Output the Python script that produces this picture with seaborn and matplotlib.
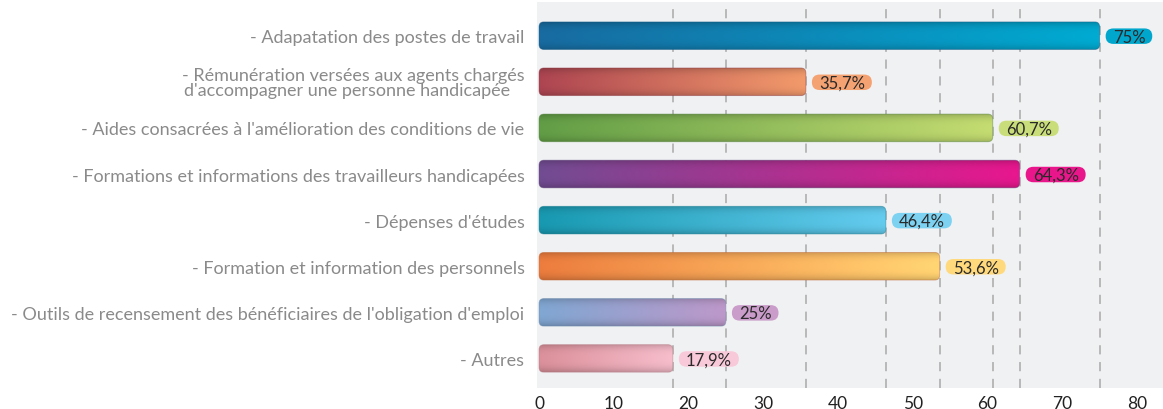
import numpy as np
import pandas as pd
import matplotlib
matplotlib.use("Agg")
import matplotlib.pyplot as plt
import seaborn as sns
from matplotlib.patches import FancyBboxPatch
from matplotlib.colors import to_rgb

categories = [
    "- Adapatation des postes de travail",
    "- Rémunération versées aux agents chargés\nd'accompagner une personne handicapée   ",
    "- Aides consacrées à l'amélioration des conditions de vie",
    "- Formations et informations des travailleurs handicapées",
    "- Dépenses d'études",
    "- Formation et information des personnels",
    "- Outils de recensement des bénéficiaires de l'obligation d'emploi",
    "- Autres",
]
values = [75, 35.7, 60.7, 64.3, 46.4, 53.6, 25, 17.9]
value_labels = ["75%", "35,7%", "60,7%", "64,3%", "46,4%", "53,6%", "25%", "17,9%"]
x_ticks = [0, 10, 20, 30, 40, 50, 60, 70, 80]

grad_start = ["#17689c", "#a8434f", "#5f9944", "#6e4a8e", "#1795ac", "#e6793c", "#7ca2cc", "#d58c96"]
grad_end = ["#00a6cc", "#ec9668", "#bfd66e", "#e2168a", "#62c6e8", "#fdd070", "#b894c4", "#f0b8c6"]
pill_colors = ["#00a6cc", "#f5a272", "#c9de7a", "#e8168a", "#7dd2f2", "#ffd97c", "#c99cc9", "#f8c9d9"]

sns.set_theme(style="white")
plt.rcParams["font.family"] = ["Lato", "DejaVu Sans"]

W, H = 1163, 410
fig = plt.figure(figsize=(W / 100, H / 100), dpi=100)
ax = fig.add_axes([537 / W, 1 - 389 / H, (W - 537) / W, (389 - 3) / H])
ax.set_facecolor("#f0f1f3")

df = pd.DataFrame({"cat": categories, "val": values})
sns.barplot(data=df, y="cat", x="val", orient="h", ax=ax, width=0.6,
            color="#888888", zorder=3)

px_x = 7.475
px_y = 46.2
x0 = -0.27
ax.set_xlim(x0, x0 + (W - 537) / px_x)
ax.set_ylim(7.64, -0.73)

# dashed reference lines at each value
for v in values:
    ax.axvline(v, color="#a9a9a9", lw=1.1, ls=(0, (6, 5)), zorder=1)

r_px = 5.0
r_x = r_px / px_x
m_aspect = (r_px / px_y) / r_x

renderer = fig.canvas.get_renderer()
patches = list(ax.patches)
for i, p in enumerate(patches):
    x, y = p.get_x(), p.get_y()
    w, h = p.get_width(), p.get_height()
    p.set_visible(False)
    c0 = np.array(to_rgb(grad_start[i]))
    c1 = np.array(to_rgb(grad_end[i]))
    ncol, nrow = 200, 40
    t = np.linspace(0, 1, ncol)[None, :, None]
    base = c0 * (1 - t) + c1 * t
    v = np.linspace(-1, 1, nrow)[:, None, None]
    shade = 1.0 - 0.16 * np.abs(v) ** 3 + 0.03 * (1 - v ** 2)
    img = np.clip(base * shade, 0, 1)
    im = ax.imshow(img, extent=[x, x + w, y + h, y], aspect="auto",
                   interpolation="bilinear", zorder=3)
    clip = FancyBboxPatch((x, y), w, h,
                          boxstyle=f"round,pad=0,rounding_size={r_x}",
                          mutation_aspect=m_aspect, transform=ax.transData,
                          facecolor="none", edgecolor="none")
    ax.add_patch(clip)
    im.set_clip_path(clip)
    border = FancyBboxPatch((x, y), w, h,
                            boxstyle=f"round,pad=0,rounding_size={r_x}",
                            mutation_aspect=m_aspect,
                            facecolor="none", edgecolor=tuple(c0 * 0.85),
                            lw=0.6, alpha=0.5, zorder=4)
    ax.add_patch(border)

    # value label with pill
    yc = y + h / 2
    tx = x + w + 13 / px_x
    txt = ax.text(tx, yc + 6.0 / px_y, value_labels[i], ha="left", va="baseline",
                  fontsize=12, color="#2a2a2a", zorder=6)
    bb = txt.get_window_extent(renderer=renderer)
    tw = bb.width / px_x
    pill_w = tw + 14 / px_x
    pill_h = 15.5 / px_y
    pr = 7.75 / px_x
    pill = FancyBboxPatch((x + w + 6 / px_x, yc - pill_h / 2 + 0.5 / px_y), pill_w, pill_h,
                          boxstyle=f"round,pad=0,rounding_size={pr}",
                          mutation_aspect=(7.75 / px_y) / pr,
                          facecolor=pill_colors[i], edgecolor="none", zorder=5)
    ax.add_patch(pill)

ax.set_xticks(x_ticks)
ax.set_xticklabels([str(t) for t in x_ticks])
ax.tick_params(axis="x", direction="in", length=5, width=1.6, color="#111111",
               labelsize=12.5, labelcolor="#222222", pad=5)
ax.tick_params(axis="y", length=0, labelsize=13, labelcolor="#8a8a8a", pad=9)
for lab in ax.get_yticklabels():
    lab.set_multialignment("right")
    lab.set_linespacing(0.9)
ax.set_xlabel("")
ax.set_ylabel("")
for s in ax.spines.values():
    s.set_visible(False)

fig.savefig("out.png", dpi=100)
